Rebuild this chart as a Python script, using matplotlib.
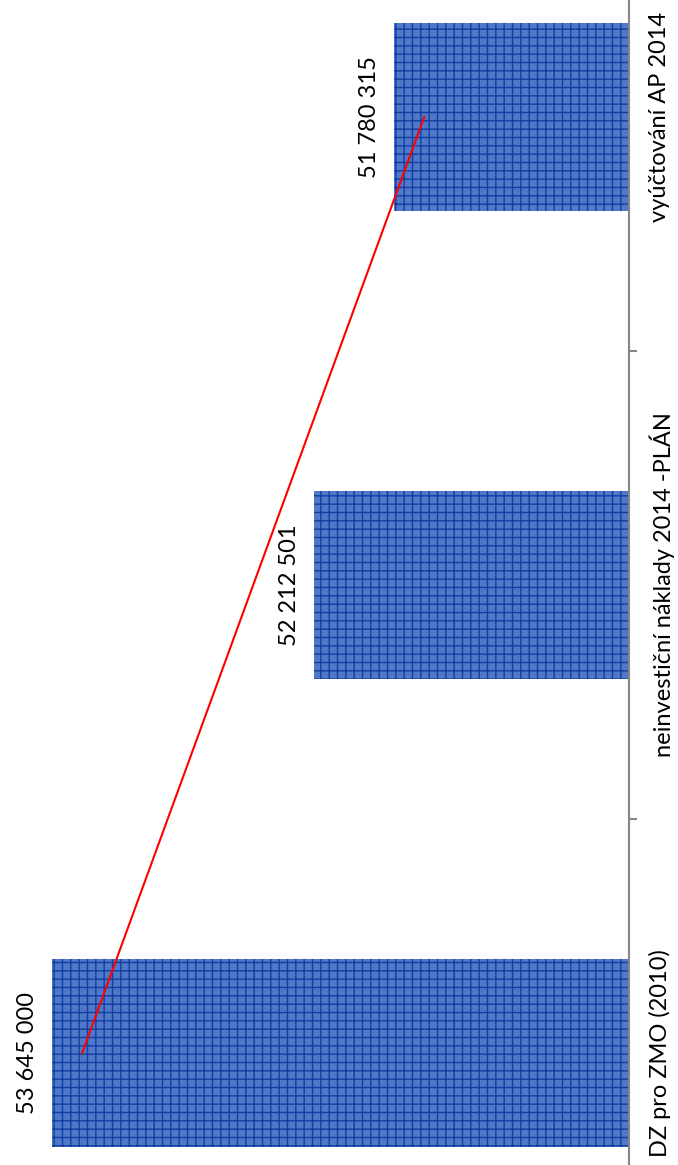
import numpy as np
import matplotlib
matplotlib.use('Agg')
import matplotlib.pyplot as plt

# data
categories_names = ['DZ pro ZMO (2010)', 'neinvestiční náklady 2014 -PLÁN', 'vyúčtování AP 2014']
values = [53645000, 52212501, 51780315]
value_labels = ['53 645 000', '52 212 501', '51 780 315']
axis_min = 50500000
axis_max = 54000000


def make_rotated_columns(values, categories_names, current_export_path):
    plt.rcdefaults()
    plt.rcParams['font.family'] = ['Lato', 'DejaVu Sans']
    plt.rcParams['hatch.linewidth'] = 1.0

    fig = plt.figure(figsize=(6.78, 11.65), dpi=100)
    # the original picture is cropped, so the axes run past the figure edges
    ax = fig.add_axes([-0.0199, -0.1047, 0.9469, 1.2052])

    y_pos = np.arange(len(values))
    rects = ax.barh(y_pos, values, height=0.40, align='center',
                    color='#5078c9', edgecolor='#123ea3', hatch='++', linewidth=0)

    ax.set_xlim(axis_max, axis_min)
    ax.set_ylim(-0.5, len(values) - 0.5)

    # linear trendline through the three columns
    coef = np.polyfit(y_pos + 1, values, 1)
    trend = np.polyval(coef, y_pos + 1)
    ax.plot(trend, y_pos, color='#ff0000', linewidth=1.5)

    for i, rect in enumerate(rects):
        yloc = rect.get_y() + rect.get_height() / 2
        ax.annotate(value_labels[i], xy=(values[i], yloc), xytext=(-10, 0),
                    textcoords='offset points', rotation=90,
                    ha='right', va='center', fontsize=17, color='black')

    for side in ['top', 'bottom', 'left']:
        ax.spines[side].set_visible(False)
    ax.spines['right'].set_color('#868686')
    ax.spines['right'].set_linewidth(1.5)

    ax.set_xticks([])
    ax.yaxis.tick_right()
    ax.set_yticks(y_pos)
    ax.set_yticklabels(categories_names, rotation=90, va='center', fontsize=17)
    ax.set_yticks(y_pos[:-1] + 0.5, minor=True)
    ax.tick_params(axis='y', which='major', length=0, pad=15)
    ax.tick_params(axis='y', which='minor', length=6, width=1.5, color='#868686',
                   direction='out', right=True, left=False)

    fig.savefig(current_export_path, dpi=100)


make_rotated_columns(values, categories_names, 'out.png')
